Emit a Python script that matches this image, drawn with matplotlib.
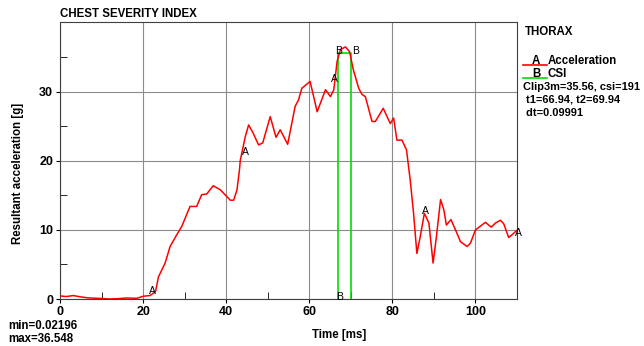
import matplotlib.pyplot as plt
from matplotlib.lines import Line2D
from matplotlib.ticker import MultipleLocator, FixedLocator

plt.rcParams['font.family'] = ['Liberation Sans', 'DejaVu Sans']

# resultant chest acceleration
timeMs = [0, 1.5, 3.2, 5, 7, 9, 12, 14, 16, 18.5, 20, 21.7, 23, 23.7, 25.3, 26.5,
          28.1, 29.3, 31.3, 32.9, 34.1, 35.3, 36.9, 38.6, 41, 41.8, 42.6, 43.2,
          43.4, 44.6, 45.4, 46.5, 47.8, 48.8, 50.6, 52, 53, 54.8, 56.6, 57.4,
          58.2, 60.2, 61.9, 63.9, 65.1, 65.9, 66.7, 67.5, 68.7, 69.7, 70.6,
          71.9, 72.7, 73.5, 73.9, 75.1, 75.9, 77.8, 79.5, 80.3, 81.1, 82.3,
          83.4, 84.3, 85.1, 85.9, 86.7, 87.7, 88.8, 89.8, 90.6, 91.6, 92.4,
          93, 94.1, 95.2, 96.4, 98, 98.8, 100, 102.4, 103.8, 104.8, 106,
          106.8, 108, 108.8, 109.9]
accelG = [0.45, 0.35, 0.5, 0.3, 0.15, 0.1, 0.0, 0.05, 0.15, 0.1, 0.4, 0.5, 1.1,
          3.2, 5.2, 7.6, 9.3, 10.5, 13.4, 13.4, 15.1, 15.2, 16.4, 15.8, 14.3,
          14.3, 15.8, 18.7, 20.1, 23.5, 25.2, 24.0, 22.3, 22.6, 26.4, 23.4,
          24.5, 22.4, 27.9, 28.8, 30.5, 31.5, 27.1, 30.3, 29.3, 30.3, 34.4,
          36.1, 36.5, 35.8, 33.2, 30.5, 29.6, 29.3, 28.4, 25.7, 25.7, 27.6,
          25.4, 26.2, 23.0, 23.0, 21.6, 17.2, 12.4, 6.6, 9.0, 12.4, 11.0, 5.2,
          9.0, 14.4, 12.9, 10.7, 11.5, 10.0, 8.3, 7.6, 8.1, 10.0, 11.1, 10.4,
          11.0, 11.4, 10.9, 8.9, 9.3, 9.9]

# CSI window
t1, t2 = 66.94, 69.94
clip3m = 35.56

# curve labels
aLabelT = [22.2, 44.6, 66.0, 88.0, 110.3]
aLabelG = [1.2, 21.3, 31.8, 12.8, 9.6]

yTicks = [0, 10, 20, 30]

fig = plt.figure(figsize=(6.44, 3.46), dpi=100)
ax = fig.add_axes([60 / 644, 47 / 346, 457 / 644, 277 / 346])

ax.plot(timeMs, accelG, color='red', lw=1.1, zorder=3)
ax.plot([t1, t1, t2, t2], [0, clip3m, clip3m, 0], color='#00dd00', lw=1.2, zorder=2)

for t, g in zip(aLabelT, aLabelG):
    ax.text(t, g, 'A', fontsize=7.5, ha='center', va='center', zorder=4)
ax.text(t1, clip3m + 0.35, 'B', fontsize=7.5, ha='center', va='center')
ax.text(t2 + 0.3, clip3m + 0.35, 'B', fontsize=7.5, ha='left', va='center')
ax.text(t1 + 0.4, 0.35, 'B', fontsize=7.5, ha='center', va='center')

ax.set_xlim(0, 110)
ax.set_ylim(0, 40.1)
ax.xaxis.set_major_locator(MultipleLocator(20))
ax.xaxis.set_minor_locator(MultipleLocator(10))
ax.yaxis.set_major_locator(FixedLocator(yTicks))
ax.yaxis.set_minor_locator(FixedLocator([5, 15, 25, 35]))
ax.grid(True, which='major', color='#8c8c8c', lw=0.8)
ax.tick_params(which='major', direction='out', length=3, labelsize=9, pad=2)
ax.tick_params(which='minor', direction='in', length=5)
for lbl in ax.get_xticklabels() + ax.get_yticklabels():
    lbl.set_fontweight('bold')
for sp in ax.spines.values():
    sp.set_color('#404040')

fs = 8.3
fig.text(60 / 644, 1 - 14 / 346, 'CHEST SEVERITY INDEX', fontsize=fs,
         fontweight='bold', va='center')
fig.text(339 / 644, 1 - 335 / 346, 'Time [ms]', fontsize=fs,
         fontweight='bold', ha='center', va='center')
fig.text(18 / 644, 1 - 173 / 346, 'Resultant acceleration [g]', fontsize=fs,
         fontweight='bold', rotation=90, ha='center', va='center')
fig.text(8 / 644, 1 - 326 / 346, 'min=0.02196', fontsize=fs, fontweight='bold', va='center')
fig.text(8 / 644, 1 - 339 / 346, 'max=36.548', fontsize=fs, fontweight='bold', va='center')

# legend block on the right
fig.text(525 / 644, 1 - 32 / 346, 'THORAX', fontsize=fs, fontweight='bold', va='center')
legendRows = [('A', 'Acceleration', 'red', 61), ('B', 'CSI', '#00dd00', 74)]
for key, name, col, y in legendRows:
    fig.text(532 / 644, 1 - y / 346, key, fontsize=fs, fontweight='bold', va='center')
    fig.text(548 / 644, 1 - y / 346, name, fontsize=fs, fontweight='bold', va='center')
    fig.add_artist(Line2D([523 / 644, 547 / 644], [1 - (y + 4) / 346] * 2,
                          color=col, lw=1.2))
infoLines = ['Clip3m=35.56, csi=191', ' t1=66.94, t2=69.94', ' dt=0.09991']
for i, s in enumerate(infoLines):
    fig.text(523 / 644, 1 - (87 + 13 * i) / 346, s, fontsize=7.9, fontweight='bold', va='center')

fig.savefig('out.png', dpi=100)
